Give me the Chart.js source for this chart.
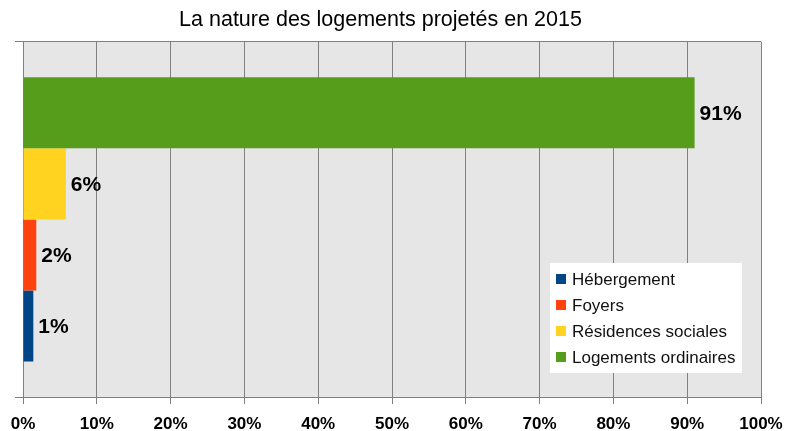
<!DOCTYPE html>
<html>
<head>
<meta charset="utf-8">
<script src="https://cdn.jsdelivr.net/npm/chart.js@4/dist/chart.umd.min.js"></script>
<style>
  html, body { margin: 0; padding: 0; background: #fff; }
  #wrap { width: 798px; height: 431px; }
</style>
</head>
<body>
<div id="wrap"><canvas id="graph"></canvas></div>
<script>
// donnees
const categories = ['2015'];
const seriesNames = ['Logements ordinaires', 'Résidences sociales', 'Foyers', 'Hébergement'];
const seriesValues = [91.0, 5.8, 1.8, 1.4];
const seriesColors = ['#579d1c', '#ffd320', '#ff420e', '#004586'];
const tickLabels = ['0%', '10%', '20%', '30%', '40%', '50%', '60%', '70%', '80%', '90%', '100%'];

const police = '"Liberation Sans", Arial, sans-serif';

// fond gris de la zone du graphique
const fondGris = {
  id: 'fondGris',
  beforeDraw(chart) {
    const a = chart.chartArea, ctx = chart.ctx;
    ctx.save();
    ctx.fillStyle = '#e6e6e6';
    ctx.fillRect(a.left, a.top, a.right - a.left, a.bottom - a.top);
    ctx.restore();
  }
};

// etiquettes de valeur au bout des barres
const etiquettes = {
  id: 'etiquettes',
  afterDatasetsDraw(chart) {
    const ctx = chart.ctx;
    ctx.save();
    ctx.font = 'bold 21px ' + police;
    ctx.fillStyle = '#000';
    ctx.textBaseline = 'middle';
    ctx.textAlign = 'left';
    chart.data.datasets.forEach((ds, i) => {
      const bar = chart.getDatasetMeta(i).data[0];
      ctx.fillText(Math.round(ds.data[0]) + '%', bar.x + 5, bar.y + 1);
    });
    ctx.restore();
  }
};

// legende dans la zone du graphique
const legendeInterne = {
  id: 'legendeInterne',
  afterDraw(chart) {
    const ctx = chart.ctx;
    const x = 550, y = 263, w = 192, h = 110;
    ctx.save();
    ctx.fillStyle = '#fff';
    ctx.fillRect(x, y, w, h);
    ctx.font = '17px ' + police;
    ctx.textBaseline = 'middle';
    const ds = chart.data.datasets.slice().reverse();
    ds.forEach((d, i) => {
      const cy = y + 16 + i * 26;
      ctx.fillStyle = d.backgroundColor;
      ctx.fillRect(x + 6, cy - 5, 10, 10);
      ctx.fillStyle = '#111';
      ctx.fillText(d.label, x + 22, cy + 1);
    });
    ctx.restore();
  }
};

new Chart(document.getElementById('graph'), {
  type: 'bar',
  data: {
    labels: categories,
    datasets: seriesNames.map((n, i) => ({
      label: n,
      data: [seriesValues[i]],
      backgroundColor: seriesColors[i],
      borderWidth: 0,
      categoryPercentage: 0.8,
      barPercentage: 1
    }))
  },
  options: {
    indexAxis: 'y',
    responsive: true,
    maintainAspectRatio: false,
    animation: false,
    layout: { padding: { left: 0, right: 37, bottom: 0 } },
    scales: {
      x: {
        min: 0,
        max: 100,
        ticks: {
          stepSize: 10,
          autoSkip: false,
          maxRotation: 0,
          color: '#000',
          font: { family: police, size: 17, weight: 'bold' },
          padding: 10,
          callback: (v, i) => tickLabels[i]
        },
        grid: { color: '#808080', lineWidth: 1, tickLength: 7, drawTicks: true },
        border: { display: true, color: '#808080' },
        afterFit: s => { s.height = 34; }
      },
      y: {
        ticks: { display: false },
        grid: { offset: true, color: '#808080', lineWidth: 1, tickLength: 8 },
        border: { display: false },
        afterFit: s => { s.width = 23; }
      }
    },
    plugins: {
      legend: { display: false },
      tooltip: { enabled: false },
      title: {
        display: true,
        text: 'La nature des logements projetés en 2015',
        color: '#000',
        font: { family: police, size: 21.5, weight: 'normal' },
        padding: { top: 7, bottom: 9 }
      }
    }
  },
  plugins: [fondGris, etiquettes, legendeInterne]
});
</script>
</body>
</html>
